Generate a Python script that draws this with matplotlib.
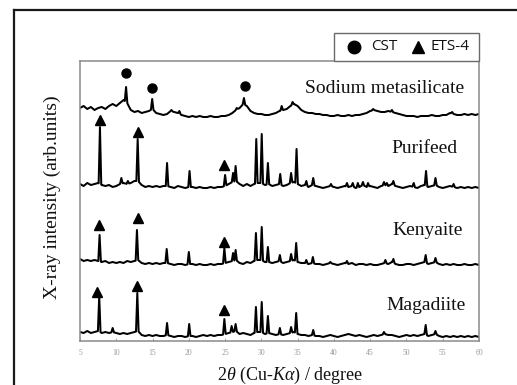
import numpy as np
import matplotlib
matplotlib.use("Agg")
import matplotlib.pyplot as plt
from matplotlib.lines import Line2D
from matplotlib.patches import Rectangle

plt.rcParams['font.family'] = ['Liberation Serif', 'DejaVu Serif']
plt.rcParams['mathtext.fontset'] = 'custom'
plt.rcParams['mathtext.rm'] = 'Liberation Serif'
plt.rcParams['mathtext.it'] = 'Liberation Serif:italic'

# ---------------- data (2theta in degree, intensity in arb. units) ----------------
two_theta_grid = np.arange(5.0, 60.001, 0.5)

sodium_base = [
    233, 235, 232, 234, 231, 233, 234, 232, 235, 237,
    235, 238, 241, 238, 231, 229, 230, 228, 229, 230,
    232, 228, 227, 226, 227, 230, 229, 228, 226, 225,
    224, 225, 224, 225, 224, 224, 225, 224, 224, 225,
    225, 226, 228, 231, 233, 237, 235, 230, 228, 227,
    227, 226, 226, 227, 228, 230, 231, 232, 235, 237,
    235, 231, 229, 228, 228, 227, 227, 226, 226, 225,
    225, 226, 225, 225, 226, 225, 226, 226, 227, 228,
    230, 231, 230, 229, 229, 230, 229, 228, 227, 226,
    225, 225, 225, 224, 225, 225, 225, 226, 225, 225,
    226, 226, 228, 227, 226, 226, 227, 226, 227, 226,
    227]
sodium_peaks = [(11.35, 254), (14.95, 242), (17.6, 231), (18.7, 230), (26.6, 233),
                (27.6, 243), (32.8, 235), (34.3, 239), (45.4, 232), (48.0, 231), (56.3, 229)]

purifeed_base = [
    157, 155, 158, 156, 157, 158, 156, 155, 156, 154,
    155, 157, 158, 157, 158, 160, 160, 156, 154, 155,
    154, 155, 154, 155, 155, 154, 153, 155, 154, 153,
    154, 154, 153, 154, 153, 153, 154, 153, 154, 154,
    155, 157, 159, 160, 157, 155, 157, 155, 157, 158,
    158, 156, 157, 155, 156, 157, 155, 156, 158, 159,
    157, 155, 156, 154, 156, 155, 154, 153, 154, 155,
    154, 153, 154, 155, 154, 155, 153, 154, 156, 154,
    155, 154, 153, 155, 156, 155, 157, 155, 154, 153,
    154, 155, 154, 153, 155, 156, 154, 155, 156, 154,
    153, 154, 155, 154, 153, 154, 153, 154, 153, 154,
    153]
purifeed_peaks = [(7.75, 214), (10.7, 163), (11.6, 160), (12.95, 202), (17.0, 178),
                  (20.1, 170), (25.0, 166), (26.1, 168), (26.45, 175), (29.3, 202),
                  (30.05, 207), (30.9, 178), (32.6, 167), (34.1, 168), (34.85, 192),
                  (36.2, 160), (37.15, 163), (39.6, 157), (41.8, 158), (42.6, 158),
                  (43.3, 158), (44.0, 159), (44.7, 158), (46.9, 159), (47.3, 158),
                  (48.2, 160), (51.0, 158), (52.7, 170), (54.0, 163), (56.5, 157)]

kenyaite_base = [
    82, 80, 81, 80, 81, 80, 79, 80, 78, 79,
    78, 79, 78, 80, 79, 80, 81, 78, 77, 78,
    77, 78, 77, 78, 78, 77, 76, 77, 77, 76,
    77, 77, 76, 77, 76, 76, 77, 76, 77, 77,
    78, 79, 80, 81, 78, 77, 79, 78, 80, 81,
    81, 79, 79, 78, 79, 80, 78, 79, 80, 81,
    79, 78, 78, 77, 78, 77, 77, 76, 77, 78,
    77, 76, 77, 78, 77, 78, 76, 77, 77, 76,
    77, 76, 76, 77, 78, 77, 79, 77, 76, 76,
    77, 77, 76, 77, 78, 79, 77, 78, 79, 77,
    76, 77, 76, 77, 76, 76, 77, 76, 76, 77,
    76]
kenyaite_peaks = [(7.7, 106), (12.85, 111), (16.95, 92), (20.0, 89), (24.9, 93),
                  (26.1, 88), (26.45, 91), (29.25, 108), (30.05, 114), (30.9, 94),
                  (32.55, 86), (34.1, 87), (34.8, 98), (36.2, 81), (37.1, 84),
                  (39.5, 79), (41.8, 80), (47.1, 81), (48.2, 82), (52.65, 86), (54.0, 83)]

magadiite_base = [
    9, 8, 10, 8, 9, 10, 8, 9, 8, 9,
    8, 7, 8, 7, 8, 9, 10, 6, 5, 6,
    5, 6, 5, 5, 6, 5, 4, 5, 5, 4,
    5, 5, 4, 5, 6, 5, 6, 5, 6, 6,
    7, 8, 9, 10, 7, 8, 7, 6, 8, 9,
    9, 7, 8, 7, 6, 7, 6, 7, 8, 9,
    7, 6, 6, 5, 6, 5, 5, 4, 5, 6,
    5, 4, 5, 6, 7, 6, 5, 6, 5, 4,
    5, 6, 5, 6, 7, 6, 6, 5, 4, 5,
    6, 5, 6, 5, 6, 7, 5, 6, 7, 5,
    4, 5, 4, 5, 4, 5, 4, 5, 4, 5,
    4]
magadiite_peaks = [(7.65, 45), (9.5, 13), (12.9, 48), (17.0, 18), (20.05, 17),
                   (24.9, 22), (25.9, 15), (26.45, 17), (29.25, 34), (30.05, 39),
                   (30.9, 25), (32.55, 13), (34.1, 14), (34.8, 28), (37.15, 11),
                   (46.9, 9), (52.65, 16), (54.0, 10)]

cst_x = [11.35, 14.95, 27.7]
cst_y = [268, 253, 255]
ets4_x = [7.75, 13.0, 24.9, 7.6, 13.0, 24.85, 7.4, 12.85, 24.85]
ets4_y = [221, 209, 176, 116, 123, 99, 49, 55, 31]

sample_names = ["Sodium metasilicate", "Purifeed", "Kenyaite", "Magadiite"]
name_x = [57.97, 57.0, 57.7, 58.1]
name_y = [248, 188, 106, 31]

x_ticks = [5, 10, 15, 20, 25, 30, 35, 40, 45, 50, 55, 60]

# ---------------- build traces ----------------
HALF_W = 0.18


def build(base, peaks):
    base = np.asarray(base, float)
    assert len(base) == len(two_theta_grid)
    pts = []
    centers = np.array([p for p, _ in peaks])
    for xg, yg in zip(two_theta_grid, base):
        if np.all(np.abs(centers - xg) > HALF_W):
            pts.append((xg, yg))
    for p, h in peaks:
        for xx in (p - HALF_W, p + HALF_W):
            pts.append((xx, np.interp(xx, two_theta_grid, base)))
        pts.append((p, h))
    pts.sort(key=lambda t: t[0])
    a = np.array(pts)
    return a[:, 0], a[:, 1]


W, H = 517, 385
fig = plt.figure(figsize=(W / 100, H / 100), dpi=100)
ax = fig.add_axes([80 / W, 1 - 341 / H, (479 - 80) / W, (341 - 61) / H])

for base, peaks in [(sodium_base, sodium_peaks), (purifeed_base, purifeed_peaks),
                    (kenyaite_base, kenyaite_peaks), (magadiite_base, magadiite_peaks)]:
    xx, yy = build(base, peaks)
    ax.plot(xx, yy, color='black', lw=1.45)

ax.plot(cst_x, cst_y, 'o', color='black', ms=6.5, ls='none')
ax.plot(ets4_x, ets4_y, '^', color='black', ms=6.8, ls='none')

for name, tx, ty in zip(sample_names, name_x, name_y):
    ax.text(tx, ty, name, ha='right', va='baseline', fontsize=14, color='#111111')

ax.set_xlim(5, 60)
ax.set_ylim(0, 280)
ax.set_xticks(x_ticks)
ax.set_xticklabels([str(t) for t in x_ticks])
ax.set_yticks([])
ax.tick_params(axis='x', direction='in', length=2, width=0.6, color='#999999',
               labelsize=5.5, labelcolor='#999999', pad=6)
for sp in ax.spines.values():
    sp.set_color('#8a8a8a')
    sp.set_linewidth(1.1)

fig.text(52 / W, 1 - 197 / H, 'X-ray intensity (arb.units)', rotation=90,
         ha='center', va='center', fontsize=14, color='#111111')
fig.text(290 / W, 1 - 375 / H, r'2$\theta$ (Cu-$K\alpha$) / degree',
         ha='center', va='center', fontsize=13, color='#111111')

# legend box
fig.add_artist(Rectangle((334 / W, 1 - 61 / H), (479 - 334) / W, 28 / H,
                         transform=fig.transFigure, facecolor='white',
                         edgecolor='#6a6a6a', lw=1.0))
fig.add_artist(Line2D([354 / W], [1 - 47 / H], marker='o', ms=9, color='black',
                      transform=fig.transFigure))
fig.add_artist(Line2D([418 / W], [1 - 47 / H], marker='^', ms=9, color='black',
                      transform=fig.transFigure))
fig.text(371 / W, 1 - 47 / H, 'CST', ha='left', va='center', fontsize=11,
         family=['Open Sans', 'DejaVu Sans'], color='#111111')
fig.text(431 / W, 1 - 47 / H, 'ETS-4', ha='left', va='center', fontsize=11,
         family=['Open Sans', 'DejaVu Sans'], color='#111111')

# outer frame
fig.add_artist(Line2D([14 / W, 14 / W], [0, 1 - 10 / H], color='#1a1a1a', lw=1.6,
                      transform=fig.transFigure))
fig.add_artist(Line2D([14 / W, 1], [1 - 10 / H, 1 - 10 / H], color='#1a1a1a', lw=1.6,
                      transform=fig.transFigure))

fig.savefig('out.png', dpi=100)
